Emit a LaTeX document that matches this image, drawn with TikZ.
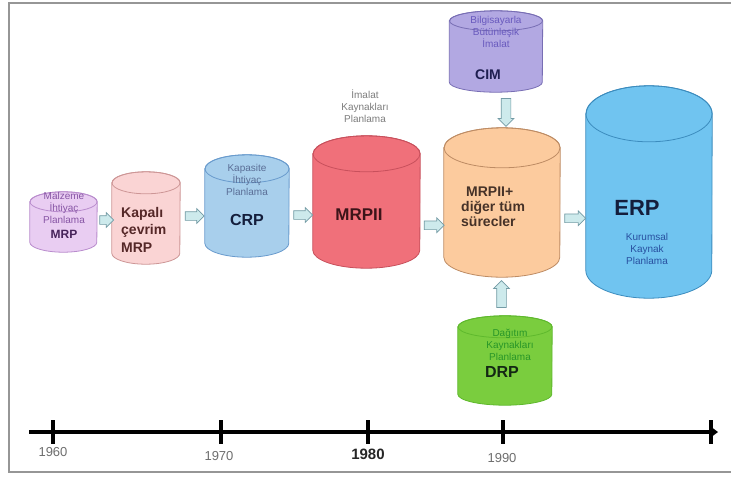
\documentclass[tikz,border=0pt]{standalone}
\usepackage{fontspec}
\setmainfont{Liberation Sans}
\usetikzlibrary{shapes.arrows,calc}
\definecolor{framegray}{RGB}{150,150,150}
\definecolor{mrpfill}{RGB}{233,205,242}
\definecolor{mrpline}{RGB}{185,140,205}
\definecolor{mrpsmall}{RGB}{135,85,165}
\definecolor{mrpdark}{RGB}{70,35,90}
\definecolor{kapfill}{RGB}{250,212,212}
\definecolor{kapline}{RGB}{205,150,150}
\definecolor{kapdark}{RGB}{85,40,40}
\definecolor{crpfill}{RGB}{168,207,236}
\definecolor{crpline}{RGB}{105,155,205}
\definecolor{crpsmall}{RGB}{90,110,150}
\definecolor{navy}{RGB}{20,30,60}
\definecolor{mrpiifill}{RGB}{240,112,122}
\definecolor{mrpiiline}{RGB}{200,80,92}
\definecolor{mrpiidark}{RGB}{60,20,25}
\definecolor{mrppfill}{RGB}{252,203,158}
\definecolor{mrppline}{RGB}{190,140,100}
\definecolor{mrppdark}{RGB}{70,50,40}
\definecolor{cimfill}{RGB}{178,168,226}
\definecolor{cimline}{RGB}{120,110,180}
\definecolor{cimsmall}{RGB}{105,90,190}
\definecolor{cimdark}{RGB}{30,30,80}
\definecolor{drpfill}{RGB}{122,205,62}
\definecolor{drpline}{RGB}{95,185,45}
\definecolor{drpsmall}{RGB}{40,150,40}
\definecolor{drpdark}{RGB}{20,40,20}
\definecolor{erpfill}{RGB}{112,196,240}
\definecolor{erpline}{RGB}{60,140,190}
\definecolor{erpsmall}{RGB}{40,80,160}
\definecolor{arrowfill}{RGB}{205,234,236}
\definecolor{arrowline}{RGB}{115,155,165}
\definecolor{yeargray}{RGB}{110,110,110}
\definecolor{imgray}{RGB}{125,125,125}
\newcommand\drawcyl[8]{%
  \pgfmathsetmacro\hw{#4/2}%
  \node[cylbox, minimum width=#4pt, minimum height=#5pt] (#1) at (#2,#3) {};
  \path[fill=#7, draw=#8, line width=0.8pt]
    ([yshift=-#6pt]#1.north west) -- ([yshift=#6pt]#1.south west)
    arc[start angle=180, end angle=360, x radius=\hw pt, y radius=#6pt]
    -- ([yshift=-#6pt]#1.north east)
    arc[start angle=0, end angle=180, x radius=\hw pt, y radius=#6pt] -- cycle;
  \draw[draw=#8, line width=0.8pt] ([yshift=-#6pt]#1.north) ellipse[x radius=\hw pt, y radius=#6pt];
}
\tikzset{
  cylbox/.style={draw=none, inner sep=0pt, rectangle},
  small/.style={font=\fontsize{10}{12}\selectfont, align=center, inner sep=0pt},
  blockarrow/.style={single arrow, draw=arrowline, fill=arrowfill, line width=0.7pt,
    inner xsep=0pt, inner ysep=4pt, single arrow head extend=3pt,
    single arrow head indent=0pt, single arrow tip angle=90},
  vblockarrow/.style={blockarrow, inner xsep=4.5pt, inner ysep=0pt},
  year/.style={font=\fontsize{13}{13}\selectfont, text=yeargray, inner sep=0pt},
}
\begin{document}
\begin{tikzpicture}[x=1pt,y=-1pt]
\clip (0,0) rectangle (731,477);
\fill[white] (0,0) rectangle (731,477);
\draw[framegray, line width=1.5pt] (9,3) rectangle (745,472);

% cylinders: name, cx, cy, w, h, eh, fill, line
\drawcyl{mrp}{63.5}{222}{67}{60}{10}{mrpfill}{mrpline}
\drawcyl{kap}{146}{218}{68}{92}{11}{kapfill}{kapline}
\drawcyl{crp}{247}{206}{84}{102}{14}{crpfill}{crpline}
\drawcyl{mrpii}{366.5}{202}{107}{132}{18}{mrpiifill}{mrpiiline}
\drawcyl{mrpp}{502}{202.5}{116}{149}{20}{mrppfill}{mrppline}
\drawcyl{cim}{496}{51.5}{93}{81}{10}{cimfill}{cimline}
\drawcyl{drp}{505}{360.5}{94}{89}{11}{drpfill}{drpline}
\drawcyl{erp}{649}{192}{126}{212}{28}{erpfill}{erpline}

% texts
\node[small, text=mrpsmall] (mrps) at (64,208) {Malzeme\\İhtiyaç\\Planlama};
\node[font=\bfseries\fontsize{12}{12}\selectfont, text=mrpdark, inner sep=0pt] (mrpt) at (64,234) {MRP};
\node[font=\bfseries\fontsize{14}{17.5}\selectfont, text=kapdark, align=left, anchor=west, inner sep=0pt] (kapt) at (121,229.5) {Kapalı\\çevrim\\MRP};
\node[small, text=crpsmall] (crps) at (247,180) {Kapasite\\İhtiyaç\\Planlama};
\node[font=\bfseries\fontsize{16}{16}\selectfont, text=navy, inner sep=0pt] (crpt) at (247,220) {CRP};
\node[small, text=imgray] (mrpiis) at (365,106) {İmalat\\Kaynakları\\Planlama};
\node[font=\bfseries\fontsize{17}{17}\selectfont, text=mrpiidark, inner sep=0pt] (mrpiit) at (359,215) {MRPII};
\node[font=\bfseries\fontsize{14}{15}\selectfont, text=mrppdark, align=left, anchor=west, inner sep=0pt] (mrppt) at (461,207) {\hspace*{5pt}MRPII+\\diğer tüm\\sürecler};
\node[small, text=cimsmall] (cims) at (496,32) {Bilgisayarla\\Bütünleşik\\İmalat};
\node[font=\bfseries\fontsize{14}{14}\selectfont, text=cimdark, inner sep=0pt] (cimt) at (488,75) {CIM};
\node[small, text=drpsmall] (drps) at (510,345) {Dağıtım\\Kaynakları\\Planlama};
\node[font=\bfseries\fontsize{16}{16}\selectfont, text=drpdark, inner sep=0pt] (drpt) at (502,372) {DRP};
\node[font=\bfseries\fontsize{22}{22}\selectfont, text=navy, inner sep=0pt] (erpt) at (637,208) {ERP};
\node[small, text=erpsmall] (erps) at (647,249) {Kurumsal\\Kaynak\\Planlama};

% block arrows
\node[blockarrow, minimum height=14pt] (a1) at ($(mrp.east)!0.5!(kap.west)$) {};
\node[blockarrow, minimum height=19pt] (a2) at ($(kap.east)!0.5!(crp.west)+(0,4)$) {};
\node[blockarrow, minimum height=19pt] (a3) at ($(crp.east)!0.5!(mrpii.west)+(0,11)$) {};
\node[blockarrow, minimum height=20pt] (a4) at ($(mrpii.east)!0.5!(mrpp.west)+(0,23)$) {};
\node[blockarrow, minimum height=21pt] (a5) at ($(mrpp.east)!0.5!(erp.west)+(0,21)$) {};
\node[vblockarrow, minimum height=28pt, shape border rotate=270] (a6) at ($(cim.south)!0.5!(mrpp.north)+(7,0)$) {};
\node[vblockarrow, minimum height=27pt, shape border rotate=90] (a7) at ($(drp.north)!0.5!(mrpp.south)+(-2,0)$) {};

% timeline
\coordinate (t0) at (29,432);
\coordinate (tend) at (712,432);
\draw[line width=4.5pt] (t0) -- (tend);
\fill (710,426) -- (718,432) -- (710,438) -- cycle;
\foreach \x in {53,221,368,503,711} \draw[line width=4pt] (\x,420) -- (\x,444);
\node[year] (y60) at (53,452) {1960};
\node[year] (y70) at (219,456) {1970};
\node[font=\bfseries\fontsize{15}{15}\selectfont, text=black!85, inner sep=0pt] (y80) at (368,454) {1980};
\node[year] (y90) at (502,458) {1990};
\end{tikzpicture}
\end{document}
